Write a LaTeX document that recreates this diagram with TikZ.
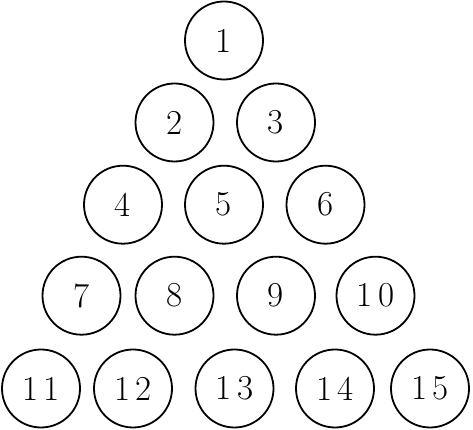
\documentclass[tikz,border=0pt]{standalone}
\begin{document}
\begin{tikzpicture}[x=1pt,y=1pt,
  ball/.style={circle,draw,line width=1.8pt,minimum size=78pt,inner sep=0pt,font=\fontsize{35}{40}\selectfont}]
\useasboundingbox (0,0) rectangle (473,430);
\node[ball] (n1) at (224,389.5) {1};
\node[ball] (n2) at (174.5,307.5) {2};
\node[ball] (n3) at (276,307.5) {3};
\node[ball] (n4) at (123,225.3) {4};
\node[ball] (n5) at (224,225.3) {5};
\node[ball] (n6) at (325.5,225.3) {6};
\node[ball] (n7) at (81.5,134.3) {7};
\node[ball] (n8) at (174.5,134.3) {8};
\node[ball] (n9) at (276,134.3) {9};
\node[ball] (n10) at (375.5,134.3) {1\,0};
\node[ball] (n11) at (41,41.5) {1\,1};
\node[ball] (n12) at (133,41.5) {1\,2};
\node[ball] (n13) at (234.5,41.5) {1\,3};
\node[ball] (n14) at (335,41.5) {1\,4};
\node[ball] (n15) at (430,41.5) {1\,5};
\end{tikzpicture}
\end{document}
